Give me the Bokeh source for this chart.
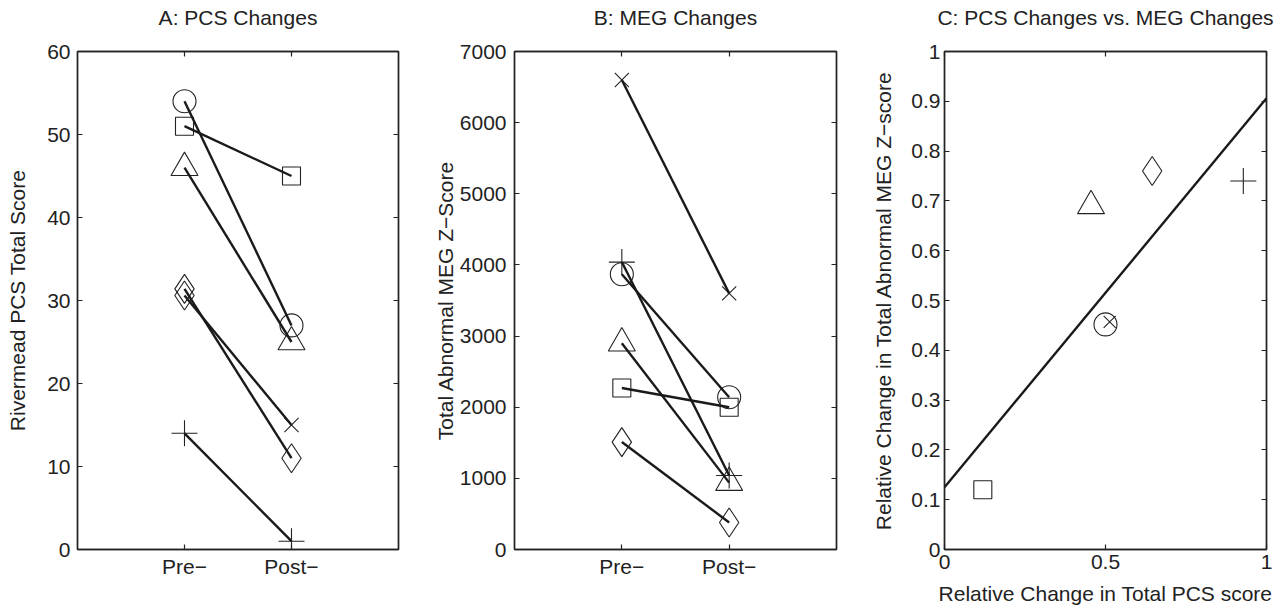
from bokeh.plotting import figure
from bokeh.layouts import row
from bokeh.models import FixedTicker, LinearAxis, Range1d, Title
from bokeh.embed import file_html
from bokeh.resources import INLINE

# ---------------- data ----------------
categories = ["Pre\u2212", "Post\u2212"]
series_markers = ["circle", "square", "triangle", "diamond", "x", "cross"]
pcs_pre_markers = ["circle", "square", "triangle", "diamond", "diamond", "cross"]
pcs_pre = [54, 51, 46, 31.4, 30.6, 14]
pcs_post = [27, 45, 25, 11, 15, 1]
meg_pre = [3870, 2270, 2900, 1510, 6600, 4040]
meg_post = [2140, 2000, 940, 380, 3600, 1040]
rel_pcs = [0.5, 0.119, 0.455, 0.645, 0.513, 0.928]
rel_meg = [0.452, 0.12, 0.69, 0.76, 0.457, 0.74]
fit_x = [0, 1]
fit_y = [0.125, 0.906]

pcs_ticks = [0, 10, 20, 30, 40, 50, 60]
meg_ticks = [0, 1000, 2000, 3000, 4000, 5000, 6000, 7000]
rel_x_ticks = [0, 0.5, 1]
rel_y_ticks = [0, 0.1, 0.2, 0.3, 0.4, 0.5, 0.6, 0.7, 0.8, 0.9, 1]

# ---------------- style ----------------
FONT = "Liberation Sans"
FS = "21px"
INK = "#222222"
LINE = "#1a1a1a"
SIZES = {"circle": 23, "square": 18, "triangle": 27, "diamond": 29, "x": 20, "cross": 26}
H = 607
TOP = 51
FRAME_H = 498


def base_fig(width, left, right, xr, yr):
    p = figure(width=width, height=H, x_range=xr, y_range=yr, title=None,
               output_backend="svg", toolbar_location=None,
               min_border_left=left, min_border_right=right,
               min_border_top=TOP, min_border_bottom=H - TOP - FRAME_H)
    p.grid.visible = False
    p.outline_line_color = INK
    p.outline_line_width = 1.4
    p.background_fill_color = "white"
    p.border_fill_color = "white"
    for ax in p.axis:
        ax.axis_line_color = INK
        ax.axis_line_width = 1.4
        ax.major_tick_in = 5
        ax.major_tick_out = 0
        ax.minor_tick_line_color = None
        ax.major_tick_line_color = INK
        ax.major_tick_line_width = 1.2
        ax.major_label_text_font = FONT
        ax.major_label_text_font_size = FS
        ax.major_label_text_color = INK
        ax.axis_label_text_font = FONT
        ax.axis_label_text_font_size = FS
        ax.axis_label_text_font_style = "normal"
        ax.axis_label_text_color = INK
    return p


def mirror(p, xticks, yticks):
    for ticks, side in ((xticks, "above"), (yticks, "right")):
        ax = LinearAxis(ticker=FixedTicker(ticks=ticks),
                        major_label_overrides={t: "" for t in ticks},
                        major_label_text_font_size="1px",
                        major_label_standoff=0, major_tick_in=5, major_tick_out=0,
                        minor_tick_line_color=None, axis_line_color=INK, axis_line_width=1.4,
                        major_tick_line_color=INK, major_tick_line_width=1.2)
        p.add_layout(ax, side)


def add_title(p, text):
    # a second (blank) line makes the title box twice as tall, so the
    # visible line sits higher above the frame, as in the reference
    p.add_layout(Title(text=text + "\n", align="center", standoff=0,
                       text_font=FONT, text_font_size=FS, text_font_style="normal",
                       text_color=INK), "above")


def prepost(p, pre, post, pre_markers, post_markers):
    xpre = [categories.index("Pre\u2212") + 1] * len(pre)
    xpost = [categories.index("Post\u2212") + 1] * len(post)
    for i in range(len(pre)):
        p.scatter([xpre[i]], [pre[i]], marker=pre_markers[i], size=SIZES[pre_markers[i]],
                  fill_color=None, line_color=INK, line_width=1.1)
        p.scatter([xpost[i]], [post[i]], marker=post_markers[i], size=SIZES[post_markers[i]],
                  fill_color=None, line_color=INK, line_width=1.1)
    p.segment(x0=xpre, y0=pre, x1=xpost, y1=post, line_color=LINE, line_width=2.4)


def cat_axis(p):
    p.xaxis[0].ticker = FixedTicker(ticks=[1, 2])
    p.xaxis[0].major_label_overrides = {i + 1: c for i, c in enumerate(categories)}
    p.xaxis[0].major_label_standoff = 5


# Panel A  (frame 77..398)
xrA, yrA = Range1d(0, 3), Range1d(pcs_ticks[0], pcs_ticks[-1])
pA = base_fig(428, 77, 30, xrA, yrA)
cat_axis(pA)
pA.yaxis[0].ticker = FixedTicker(ticks=pcs_ticks)
pA.yaxis[0].axis_label = "Rivermead PCS Total Score"
pA.yaxis[0].major_label_standoff = 7
pA.yaxis[0].axis_label_standoff = 15
mirror(pA, [1, 2], pcs_ticks)
prepost(pA, pcs_pre, pcs_post, pcs_pre_markers, series_markers)
add_title(pA, "A: PCS Changes")

# Panel B  (frame 514..836)
xrB, yrB = Range1d(0, 3), Range1d(meg_ticks[0], meg_ticks[-1])
pB = base_fig(440, 86, 32, xrB, yrB)
cat_axis(pB)
pB.yaxis[0].ticker = FixedTicker(ticks=meg_ticks)
pB.yaxis[0].axis_label = "Total Abnormal MEG Z\u2212Score"
pB.yaxis[0].major_label_standoff = 8
pB.yaxis[0].axis_label_standoff = 0
mirror(pB, [1, 2], meg_ticks)
prepost(pB, meg_pre, meg_post, series_markers, series_markers)
add_title(pB, "B: MEG Changes")

# Panel C  (frame 944..1266)
xrC, yrC = Range1d(rel_x_ticks[0], rel_x_ticks[-1]), Range1d(rel_y_ticks[0], rel_y_ticks[-1])
pC = base_fig(408, 76, 10, xrC, yrC)
pC.xaxis[0].ticker = FixedTicker(ticks=rel_x_ticks)
pC.xaxis[0].major_label_overrides = {0: "0", 0.5: "0.5", 1: "1"}
pC.xaxis[0].major_label_standoff = 5
pC.xaxis[0].axis_label = "Relative Change in Total PCS score"
pC.xaxis[0].axis_label_standoff = 10
pC.yaxis[0].ticker = FixedTicker(ticks=rel_y_ticks)
pC.yaxis[0].major_label_overrides = {0: "0", 1: "1"}
pC.yaxis[0].axis_label = "Relative Change in Total Abnormal MEG Z\u2212score"
pC.yaxis[0].major_label_standoff = 4
pC.yaxis[0].axis_label_standoff = 13
mirror(pC, rel_x_ticks, rel_y_ticks)
pC.line(fit_x, fit_y, line_color=LINE, line_width=2.4)
for i in range(len(rel_pcs)):
    m = series_markers[i]
    sz = 17 if m == "x" else SIZES[m]
    pC.scatter([rel_pcs[i]], [rel_meg[i]], marker=m, size=sz,
               fill_color=None, line_color=INK, line_width=1.1)
add_title(pC, "C: PCS Changes vs. MEG Changes")

layout = row(pA, pB, pC)
open("out.html", "w").write(file_html(layout, INLINE))
